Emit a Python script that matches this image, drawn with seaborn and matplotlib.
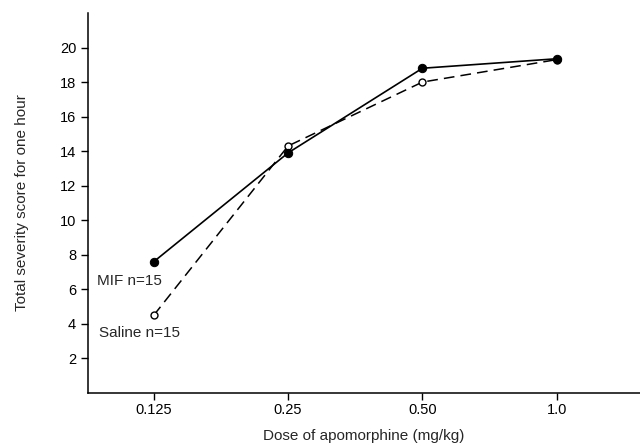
import numpy as np
import pandas as pd
import matplotlib
matplotlib.use('Agg')
import matplotlib.pyplot as plt
import seaborn as sns

# Values
doses = ['0.125', '0.25', '0.50', '1.0']
mif_scores = [7.6, 13.9, 18.8, 19.35]
saline_scores = [4.5, 14.3, 18.0, 19.3]

df = pd.DataFrame({'pos': np.arange(len(doses)), 'mif': mif_scores, 'saline': saline_scores})

sns.set_style('ticks')
plt.rcParams['font.family'] = ['Liberation Sans', 'DejaVu Sans']

fig = plt.figure(figsize=(6.4, 4.48), dpi=100)
ax = fig.add_axes([0.1375, 0.123, 0.8625, 0.848])

# Saline - dashed line, open circles
sns.lineplot(data=df, x='pos', y='saline', ax=ax, color='black', lw=1.1,
             marker='o', markersize=5, markerfacecolor='white', markeredgecolor='black',
             markeredgewidth=1.0)
ax.lines[-1].set_dashes([7, 4])
# MIF - solid line, filled circles (drawn on top)
sns.lineplot(data=df, x='pos', y='mif', ax=ax, color='black', lw=1.2,
             marker='o', markersize=6, markerfacecolor='black', markeredgecolor='black')

ax.set_xlim(-0.49, 3.62)
ax.set_ylim(0, 22)
ax.set_xticks(df['pos'])
ax.set_xticklabels(doses)
ax.set_yticks(np.arange(2, 21, 2))
ax.tick_params(direction='out', length=5, width=1, labelsize=10.5, colors='black')
ax.tick_params(axis='x', pad=2)

for s in ['top', 'right']:
    ax.spines[s].set_visible(False)
for s in ['left', 'bottom']:
    ax.spines[s].set_linewidth(1.1)
    ax.spines[s].set_color('black')

ax.set_xlabel('Dose of apomorphine (mg/kg)', fontsize=11, labelpad=9)
ax.set_ylabel('Total severity score for one hour', fontsize=11, labelpad=22)

ax.text(-0.42, 6.5, 'MIF n=15', fontsize=11, va='center', ha='left')
ax.text(-0.41, 3.45, 'Saline n=15', fontsize=11, va='center', ha='left')

fig.savefig('out.png', dpi=100)
